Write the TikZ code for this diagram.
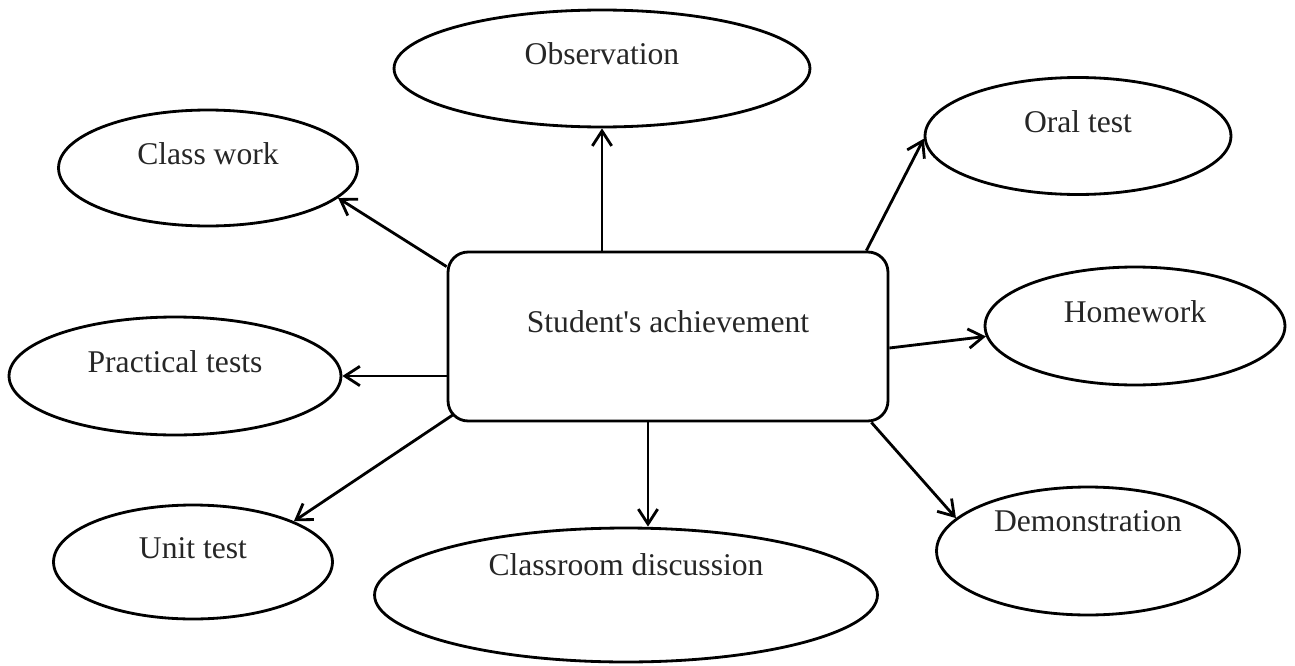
\documentclass[tikz,border=0pt]{standalone}
\usepackage{fontspec}
\setmainfont{Liberation Serif}
\usetikzlibrary{shapes.geometric,arrows.meta}

\begin{document}
\begin{tikzpicture}[
    x=0.02cm, y=-0.02cm,
    every node/.style={font=\fontsize{18}{22}\selectfont, text=black!85},
    bubble/.style={ellipse, draw=black, line width=1.6pt, inner sep=0pt, text height=12pt, text depth=#1},
    bubble/.default=16pt,
    mainbox/.style={rectangle, rounded corners=0.4cm, draw=black, line width=1.6pt, minimum width=8.8cm, minimum height=3.38cm, text height=12pt, text depth=16pt},
    arr/.style={line width=1.6pt, -{Straight Barb[length=8.5pt,width=11pt]}},
]
    \useasboundingbox (0,0) rectangle (1295,666);

    %node
    \node[mainbox] (main) at (668,336.5) {Student\textquotesingle s achievement};
    \node[bubble, minimum width=8.32cm, minimum height=2.34cm] (obs) at (602,68.5) {Observation};
    \node[bubble, minimum width=5.98cm, minimum height=2.32cm] (cw) at (208,168) {Class work};
    \node[bubble, minimum width=6.12cm, minimum height=2.34cm] (oral) at (1078,136) {Oral test};
    \node[bubble, minimum width=6.0cm, minimum height=2.36cm] (hw) at (1135,326) {Homework};
    \node[bubble, minimum width=6.64cm, minimum height=2.36cm] (prac) at (175,376) {Practical tests};
    \node[bubble, minimum width=5.58cm, minimum height=2.28cm] (unit) at (193,562) {Unit test};
    \node[bubble=34pt, minimum width=10.06cm, minimum height=2.68cm] (disc) at (626,595) {Classroom discussion};
    \node[bubble=34pt, minimum width=6.06cm, minimum height=2.56cm] (demo) at (1088,551) {Demonstration};

    %lines
    \draw[arr] (obs.south |- main.north) -- (obs.south);
    \draw[arr] ([shift={(0,16)}]main.north west) -- (cw.-13);
    \draw[arr] ([shift={(-23,0)}]main.north east) -- (oral.181);
    \draw[arr] ([shift={(0,11.5)}]main.east) -- (hw.184);
    \draw[arr] (main.west |- prac.east) -- (prac.east);
    \draw[arr] ([shift={(7,-8)}]main.south west) -- (unit.22);
    \draw[arr] ([shift={(-20,0)}]main.south) -- ([shift={(-20,0)}]main.south |- disc.north);
    \draw[arr] ([shift={(-18,0)}]main.south east) -- (demo.166);
\end{tikzpicture}
\end{document}
